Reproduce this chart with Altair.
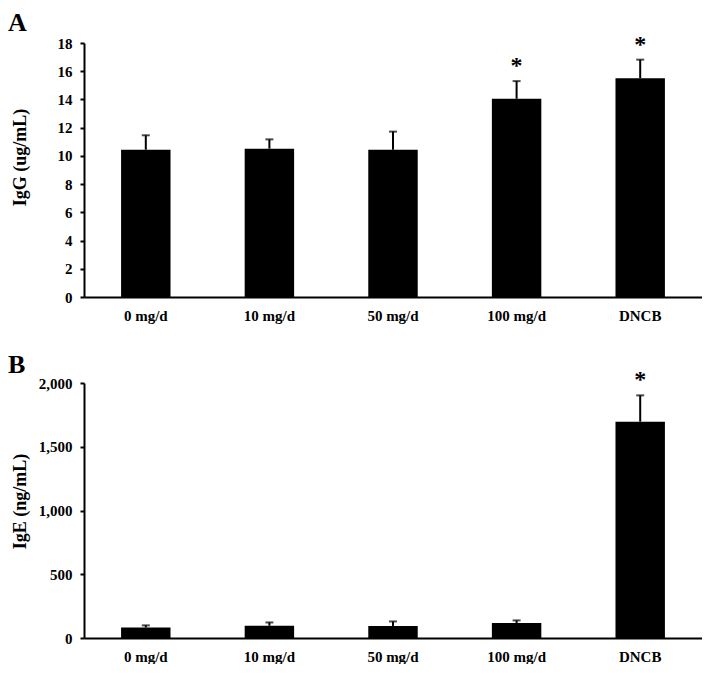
import altair as alt
import pandas as pd

groups = ["0 mg/d", "10 mg/d", "50 mg/d", "100 mg/d", "DNCB"]
igg_mean = [10.44, 10.51, 10.44, 14.05, 15.50]
igg_err = [1.02, 0.66, 1.28, 1.25, 1.32]
igg_sig = ["", "", "", "*", "*"]
ige_mean = [83, 96, 94, 117, 1697]
ige_err = [16, 26, 36, 21, 206]
ige_sig = ["", "", "", "", "*"]
igg_ticks = [0, 2, 4, 6, 8, 10, 12, 14, 16, 18]
ige_ticks = [0, 500, 1000, 1500, 2000]

FONT = "Liberation Serif"
W = 618


def panel(letter, means, errs, sigs, title, dmax, ticks, label_expr, h, title_y, letter_y):
    df = pd.DataFrame({"g": groups, "v": means, "e": errs, "s": sigs})
    df["top"] = df["v"] + df["e"]
    x = alt.X("g:N", sort=groups, title=None,
              scale=alt.Scale(paddingInner=0.6, paddingOuter=0.3),
              axis=alt.Axis(labelAngle=0, ticks=False, tickSize=0, labelPadding=11,
                            labelFont=FONT, labelFontSize=15, labelFontWeight="bold",
                            labelColor="black", domainColor="black", domainWidth=2))
    y_scale = alt.Scale(domain=[0, dmax], nice=False)
    yax = alt.Axis(values=ticks, tickCount=len(ticks), labelExpr=label_expr, grid=False,
                   labelOverlap=False, labelFlush=False,
                   tickSize=4, tickWidth=2, tickColor="black", domainColor="black",
                   domainWidth=2, labelPadding=8, labelFont=FONT, labelFontSize=15,
                   labelFontWeight="bold", labelColor="black",
                   titleFont=FONT, titleFontSize=18, titleFontWeight="bold",
                   titleColor="black", titleX=-64, titleY=title_y, titleAngle=-90,
                   titleBaseline="middle", titleAlign="center")

    def Y(field):
        return alt.Y(field, scale=y_scale, axis=yax, title=title)

    base = alt.Chart(df).encode(x=x)
    bars = base.mark_bar(color="black").encode(y=Y("v:Q"))
    rule = base.mark_rule(color="black", strokeWidth=2).encode(y=Y("v:Q"), y2="top:Q")
    cap = base.mark_tick(color="black", size=8, thickness=2).encode(y=Y("top:Q"))
    star = base.mark_text(font=FONT, fontSize=24, fontWeight="bold", dy=-15,
                          color="black", baseline="middle").encode(y=Y("top:Q"), text="s:N")
    lab = alt.Chart(pd.DataFrame({"t": [letter]})).mark_text(
        font=FONT, fontSize=26, fontWeight="bold", align="left", baseline="top",
        color="black").encode(x=alt.value(-76), y=alt.value(letter_y), text="t:N")
    return alt.layer(bars, rule, cap, star, lab).properties(width=W, height=h)


a = panel("A", igg_mean, igg_err, igg_sig, "IgG (ug/mL)", 18, igg_ticks,
          "format(datum.value, 'd')", 254, 114, -33)
b = panel("B", ige_mean, ige_err, ige_sig, "IgE (ng/mL)", 2000, ige_ticks,
          "format(datum.value, ',')", 255, 118, -31)

chart = alt.vconcat(a, b, spacing=29).configure(
    padding={"top": 2, "left": 0, "right": 0, "bottom": 0}).configure_view(stroke=None)
chart.save("out.html", embed_options={"renderer": "svg", "actions": False})
